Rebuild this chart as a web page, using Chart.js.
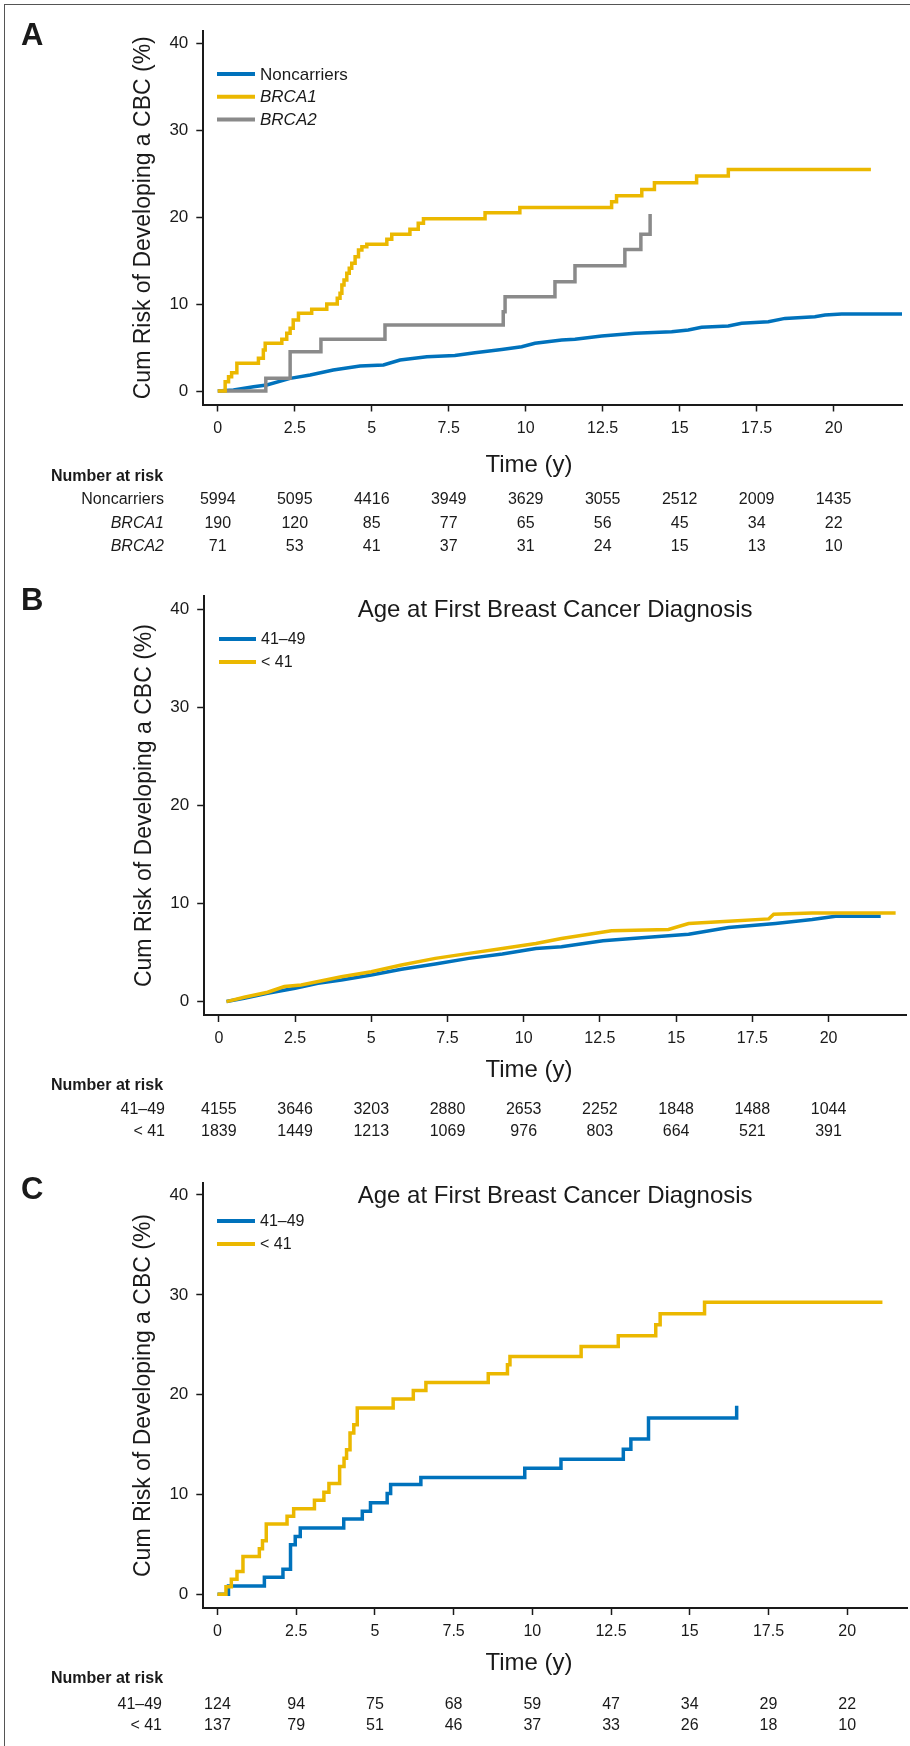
<!DOCTYPE html>
<html>
<head>
<meta charset="utf-8">
<script src="https://cdn.jsdelivr.net/npm/chart.js@4.4.1/dist/chart.umd.min.js"></script>
<style>
html,body{margin:0;padding:0;background:#fff;}
#wrap{position:relative;width:910px;height:1746px;overflow:hidden;background:#fff;}
#frame{position:absolute;left:4px;top:4px;width:930px;height:1770px;border-left:1.5px solid #555;border-top:1.5px solid #555;}
canvas{position:absolute;left:0;}
</style>
</head>
<body>
<div id="wrap">
<div id="frame"></div>
<canvas id="cA" width="910" height="578" style="top:0px;width:910px;height:578px"></canvas>
<canvas id="cB" width="910" height="580" style="top:578px;width:910px;height:580px"></canvas>
<canvas id="cC" width="910" height="588" style="top:1158px;width:910px;height:588px"></canvas>
</div>
<script>
// ---------- DATA ----------
const timeTicks = [0, 2.5, 5, 7.5, 10, 12.5, 15, 17.5, 20];
const riskTicks = [0, 10, 20, 30, 40];

// Panel A
const aNonLabel = 'Noncarriers', aB1Label = 'BRCA1', aB2Label = 'BRCA2';
const aNonT = [0, 0.51, 1.16, 1.59, 2.35, 3.0, 3.75, 4.62, 5.38, 5.92, 6.79, 7.7, 8.35, 9.22, 9.87, 10.3, 11.17, 11.6, 12.47, 13.55, 14.74, 15.28, 15.71, 16.58, 17.01, 17.88, 18.42, 19.39, 19.72, 20.26, 22.26];
const aNonV = [0, 0.11, 0.5, 0.69, 1.46, 1.84, 2.42, 2.88, 2.99, 3.57, 3.95, 4.1, 4.41, 4.79, 5.1, 5.49, 5.87, 5.95, 6.33, 6.64, 6.83, 7.02, 7.33, 7.48, 7.79, 7.98, 8.36, 8.55, 8.75, 8.86, 8.86];
const aB1T = [0, 0.24, 0.35, 0.45, 0.62, 1.32, 1.48, 1.54, 2.08, 2.24, 2.35, 2.45, 2.62, 3.05, 3.54, 3.88, 3.97, 4.03, 4.10, 4.19, 4.27, 4.35, 4.46, 4.57, 4.68, 4.84, 5.49, 5.65, 6.24, 6.51, 6.68, 8.68, 9.81, 12.79, 12.95, 13.77, 14.18, 15.55, 16.58, 21.21];
const aB1V = [0, 1.07, 1.65, 2.11, 3.19, 3.76, 4.72, 5.49, 5.95, 6.64, 7.21, 8.17, 8.94, 9.40, 10.01, 10.67, 11.24, 12.20, 12.77, 13.54, 14.12, 14.69, 15.46, 16.23, 16.61, 16.88, 17.46, 18.03, 18.61, 19.30, 19.83, 20.52, 21.13, 21.78, 22.48, 23.2, 23.97, 24.74, 25.5, 25.5];
const aB2T = [0, 1.56, 2.35, 3.35, 5.43, 9.27, 9.33, 10.95, 11.6, 13.22, 13.74, 14.04];
const aB2V = [0, 1.46, 4.52, 5.95, 7.59, 9.13, 10.85, 12.58, 14.42, 16.3, 18.03, 20.37];
const aRiskNon = [5994, 5095, 4416, 3949, 3629, 3055, 2512, 2009, 1435];
const aRiskB1 = [190, 120, 85, 77, 65, 56, 45, 34, 22];
const aRiskB2 = [71, 53, 41, 37, 31, 24, 15, 13, 10];

// Panel B
const groupOldLabel = '41–49', groupYoungLabel = '< 41';
const panelTitle = 'Age at First Breast Cancer Diagnosis';
const bOldT = [0.25, 0.83, 1.6, 2.5, 3.25, 4.02, 5.0, 5.99, 7.1, 8.2, 9.3, 10.4, 11.24, 12.6, 13.98, 15.41, 16.72, 18.26, 19.46, 20.23, 21.71];
const bOldV = [0, 0.34, 0.85, 1.36, 1.87, 2.2, 2.71, 3.29, 3.83, 4.41, 4.85, 5.42, 5.59, 6.2, 6.54, 6.88, 7.56, 7.97, 8.37, 8.71, 8.71];
const bYoungT = [0.25, 0.83, 1.6, 2.15, 2.7, 4.02, 5.0, 5.99, 7.1, 8.2, 9.3, 10.4, 11.24, 12.88, 14.75, 15.41, 16.72, 18.04, 18.2, 19.46, 22.2];
const bYoungV = [0, 0.44, 0.95, 1.53, 1.7, 2.54, 3.05, 3.73, 4.41, 4.92, 5.42, 5.93, 6.44, 7.22, 7.36, 7.97, 8.2, 8.44, 8.91, 9.04, 9.04];
const bRiskOld = [4155, 3646, 3203, 2880, 2653, 2252, 1848, 1488, 1044];
const bRiskYoung = [1839, 1449, 1213, 1069, 976, 803, 664, 521, 391];

// Panel C
const cOldT = [0, 0.35, 1.49, 2.08, 2.32, 2.47, 2.63, 4.01, 4.6, 4.86, 5.39, 5.5, 6.46, 9.76, 10.91, 12.89, 13.13, 13.69, 16.49];
const cOldV = [0, 0.84, 1.71, 2.52, 4.96, 5.8, 6.64, 7.55, 8.32, 9.16, 10.1, 11.0, 11.7, 12.64, 13.54, 14.54, 15.55, 17.65, 18.89];
const cYoungT = [0, 0.27, 0.44, 0.62, 0.81, 1.33, 1.43, 1.55, 2.21, 2.42, 3.08, 3.38, 3.54, 3.88, 4.02, 4.10, 4.21, 4.33, 4.44, 5.58, 6.22, 6.62, 8.6, 9.21, 9.29, 11.55, 12.73, 13.92, 14.06, 15.47, 21.12];
const cYoungV = [0, 0.77, 1.51, 2.28, 3.79, 4.56, 5.37, 7.05, 7.81, 8.56, 9.43, 10.23, 11.11, 12.8, 13.64, 14.47, 16.15, 16.98, 18.66, 19.56, 20.42, 21.22, 22.1, 23.0, 23.83, 24.83, 25.91, 27.01, 28.11, 29.25, 29.25];
const cRiskOld = [124, 94, 75, 68, 59, 47, 34, 29, 22];
const cRiskYoung = [137, 79, 51, 46, 37, 33, 26, 18, 10];

const yTitle = 'Cum Risk of Developing a CBC (%)';
const xTitle = 'Time (y)';
const riskHeader = 'Number at risk';

// ---------- STYLE ----------
const FAM = '"Liberation Sans", Arial, Helvetica, sans-serif';
const BLUE = '#0072BC', YELLOW = '#EBB800', GRAY = '#8A8A8A', INK = '#1a1a1a';
Chart.defaults.font.family = FAM;
Chart.defaults.color = INK;

const pts = (T, V) => T.map((t, i) => ({x: t, y: V[i]}));

const extras = {
  id: 'extras',
  afterDraw(chart, args, o) {
    const ctx = chart.ctx, xs = chart.scales.x, area = chart.chartArea;
    ctx.save();
    ctx.fillStyle = INK;
    // panel letter
    ctx.font = 'bold 31px ' + FAM;
    ctx.textAlign = 'left'; ctx.textBaseline = 'alphabetic';
    ctx.fillText(o.letter, 21, o.letterY);
    // title
    if (o.title) {
      ctx.font = '24px ' + FAM;
      ctx.textAlign = 'center'; ctx.textBaseline = 'middle';
      ctx.fillText(o.title, (area.left + area.right) / 2, o.titleY);
    }
    // legend (from datasets, in legend order)
    o.legendOrder.forEach((di, i) => {
      const ds = chart.data.datasets[di];
      const y = o.legY + i * o.legGap;
      ctx.strokeStyle = ds.borderColor; ctx.lineWidth = 4; ctx.lineCap = 'butt';
      ctx.beginPath(); ctx.moveTo(o.legX0, y); ctx.lineTo(o.legX1, y); ctx.stroke();
      ctx.fillStyle = INK;
      ctx.font = (o.italic.includes(ds.label) ? 'italic ' : '') + o.legFont + 'px ' + FAM;
      ctx.textAlign = 'left'; ctx.textBaseline = 'middle';
      ctx.fillText(ds.label, o.legX1 + 5, y + 1);
    });
    // x title
    ctx.font = '24px ' + FAM;
    ctx.textAlign = 'center'; ctx.textBaseline = 'middle';
    ctx.fillText(xTitle, 529, o.xTitleY);
    // number at risk
    ctx.font = 'bold 16px ' + FAM;
    ctx.textAlign = 'left';
    ctx.fillText(riskHeader, 51, o.riskY);
    o.riskRows.forEach((r, i) => {
      const y = o.rowY + i * o.rowGap;
      ctx.font = (r.italic ? 'italic ' : '') + '16px ' + FAM;
      ctx.textAlign = 'right';
      ctx.fillText(r.label, o.rowLabelX, y);
      ctx.font = '16px ' + FAM;
      ctx.textAlign = 'center';
      r.values.forEach((v, j) => ctx.fillText(String(v), xs.getPixelForValue(timeTicks[j]), y));
    });
    ctx.restore();
  }
};

function makeChart(id, cfg) {
  const H = cfg.height;
  const xH = 50;
  return new Chart(document.getElementById(id), {
    type: 'line',
    data: {datasets: cfg.datasets},
    options: {
      responsive: false, animation: false, devicePixelRatio: 1,
      events: [],
      layout: {padding: {left: cfg.padLeft, top: cfg.top, right: 910 - cfg.right, bottom: H - cfg.bottom - xH}},
      elements: {point: {radius: 0}, line: {tension: 0, borderWidth: 3.5, borderCapStyle: 'butt', borderJoinStyle: 'miter'}},
      scales: {
        x: {
          type: 'linear', min: cfg.xmin, max: cfg.xmax,
          afterBuildTicks: s => { s.ticks = timeTicks.map(v => ({value: v})); },
          afterFit: s => { s.height = xH; s.paddingLeft = 0; s.paddingRight = 0; },
          ticks: {font: {size: 16}, color: INK, padding: 7, maxRotation: 0, autoSkip: false, callback: v => String(v)},
          grid: {display: true, drawOnChartArea: false, drawTicks: true, tickLength: 7, tickWidth: 1.5, tickColor: INK, color: INK},
          border: {display: true, width: 2, color: INK},
          title: {display: false}
        },
        y: {
          type: 'linear', min: cfg.ymin, max: cfg.ymax,
          afterBuildTicks: s => { s.ticks = riskTicks.map(v => ({value: v})); },
          afterFit: s => { s.width = cfg.left - cfg.padLeft; s.paddingTop = 0; s.paddingBottom = 0; },
          ticks: {font: {size: 17}, color: INK, padding: 8, callback: v => String(v)},
          grid: {display: true, drawOnChartArea: false, drawTicks: true, tickLength: 7, tickWidth: 1.5, tickColor: INK, color: INK},
          border: {display: true, width: 2, color: INK},
          title: {display: true, text: yTitle, font: {size: 23}, color: INK, padding: {top: 0, bottom: 0}}
        }
      },
      plugins: {legend: {display: false}, tooltip: {enabled: false}, title: {display: false}, extras: cfg.extras}
    },
    plugins: [extras]
  });
}

const ds = (label, T, V, color, order, stepped) => ({label, data: pts(T, V), borderColor: color, backgroundColor: color, borderWidth: 3.5, stepped: stepped ? 'before' : false, order, fill: false, pointRadius: 0});

makeChart('cA', {
  height: 578, left: 203.3, padLeft: 130.2, right: 902, top: 31, bottom: 404.5,
  xmin: -0.47, xmax: 22.22, ymin: -1.55, ymax: 41.43,
  datasets: [
    ds(aNonLabel, aNonT, aNonV, BLUE, 2, false),
    ds(aB1Label, aB1T, aB1V, YELLOW, 0, true),
    ds(aB2Label, aB2T, aB2V, GRAY, 1, true)
  ],
  extras: {
    letter: 'A', letterY: 45, title: null, titleY: 0,
    legendOrder: [0, 1, 2], italic: [aB1Label, aB2Label], legX0: 217, legX1: 255, legY: 74, legGap: 22.7, legFont: 17,
    xTitleY: 465, riskY: 477, rowY: 500, rowGap: 23.4, rowLabelX: 164,
    riskRows: [
      {label: aNonLabel, italic: false, values: aRiskNon},
      {label: aB1Label, italic: true, values: aRiskB1},
      {label: aB2Label, italic: true, values: aRiskB2}
    ]
  }
});

makeChart('cB', {
  height: 580, left: 204.2, padLeft: 131.2, right: 906, top: 18.2, bottom: 437,
  xmin: -0.48, xmax: 22.54, ymin: -1.37, ymax: 41.38,
  datasets: [
    ds(groupOldLabel, bOldT, bOldV, BLUE, 1, false),
    ds(groupYoungLabel, bYoungT, bYoungV, YELLOW, 0, false)
  ],
  extras: {
    letter: 'B', letterY: 32, title: panelTitle, titleY: 32,
    legendOrder: [0, 1], italic: [], legX0: 219, legX1: 256, legY: 61, legGap: 23, legFont: 16,
    xTitleY: 492, riskY: 508, rowY: 532, rowGap: 22, rowLabelX: 165,
    riskRows: [
      {label: groupOldLabel, italic: false, values: bRiskOld},
      {label: groupYoungLabel, italic: false, values: bRiskYoung}
    ]
  }
});

makeChart('cC', {
  height: 588, left: 203.3, padLeft: 130.2, right: 907, top: 25, bottom: 450,
  xmin: -0.45, xmax: 21.9, ymin: -1.37, ymax: 41.2,
  datasets: [
    ds(groupOldLabel, cOldT, cOldV, BLUE, 1, true),
    ds(groupYoungLabel, cYoungT, cYoungV, YELLOW, 0, true)
  ],
  extras: {
    letter: 'C', letterY: 41, title: panelTitle, titleY: 38,
    legendOrder: [0, 1], italic: [], legX0: 217, legX1: 255, legY: 63, legGap: 23, legFont: 16,
    xTitleY: 505, riskY: 521, rowY: 547, rowGap: 21, rowLabelX: 162,
    riskRows: [
      {label: groupOldLabel, italic: false, values: cRiskOld},
      {label: groupYoungLabel, italic: false, values: cRiskYoung}
    ]
  }
});
</script>
</body>
</html>
